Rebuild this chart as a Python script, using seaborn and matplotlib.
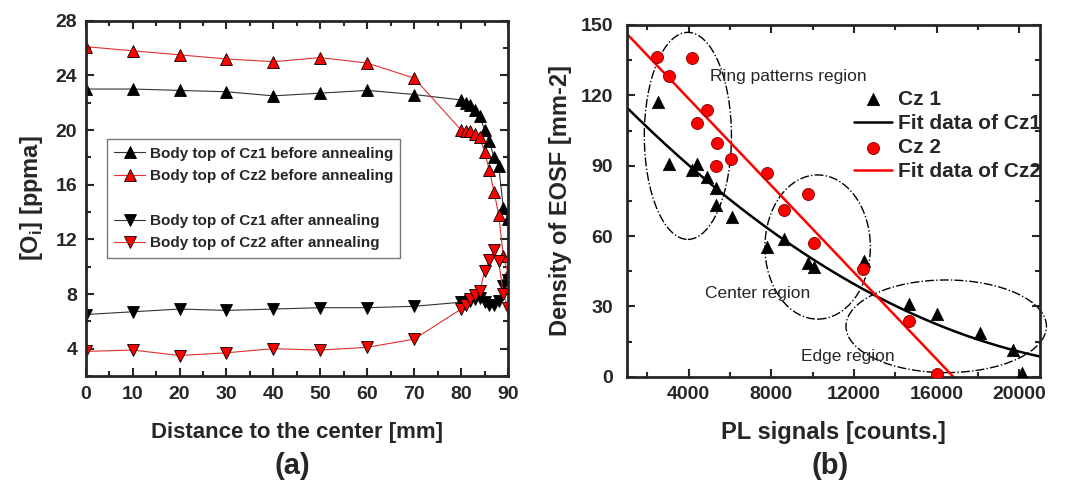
import numpy as np
import matplotlib
matplotlib.use("Agg")
import matplotlib.pyplot as plt
import seaborn as sns
from matplotlib.lines import Line2D
from matplotlib.patches import Ellipse
from matplotlib.ticker import MultipleLocator

# ---- data, panel (a) ----
distance = [0, 10, 20, 30, 40, 50, 60, 70, 80, 81, 82, 83, 84, 85, 86, 87, 88, 89, 90]
cz1_before = [23.0, 23.0, 22.9, 22.8, 22.5, 22.7, 22.9, 22.6, 22.2, 22.0, 21.8, 21.5, 21.0, 20.0,
              19.2, 18.0, 17.4, 14.3, 13.5]
cz2_before = [26.1, 25.8, 25.5, 25.2, 25.0, 25.3, 24.9, 23.8, 20.0, 19.9, 19.9, 19.7, 19.5, 18.4,
              17.1, 15.5, 13.8, 10.8, 9.5]
cz1_after = [6.5, 6.7, 6.9, 6.8, 6.9, 7.0, 7.0, 7.1, 7.4, 7.4, 7.5, 7.6, 7.7, 7.4, 7.2, 7.2, 7.5,
             8.6, 9.0]
cz2_after = [3.8, 3.9, 3.5, 3.7, 4.0, 3.9, 4.1, 4.7, 6.9, 7.2, 7.6, 7.9, 8.2, 9.7, 10.5, 11.2, 10.4,
             8.0, 7.0]

# ---- data, panel (b) ----
pl_cz1 = [2500, 3060, 4170, 4390, 4880, 5330, 5330, 6110, 7800, 8610, 9760, 10070, 12470, 14650,
          16030, 18110, 19710, 20120]
eosf_cz1 = [117.3, 90.7, 88.2, 90.7, 85.3, 80.3, 73.2, 68.0, 55.2, 58.6, 48.4, 46.9, 49.5, 31.0,
            26.7, 18.8, 11.4, 1.7]
pl_cz2 = [2465, 3064, 4166, 4879, 4393, 5365, 5301, 6062, 7797, 8608, 9759, 10066, 12433, 14654,
          16031]
eosf_cz2 = [136.5, 128.2, 135.8, 113.7, 108.1, 99.8, 89.9, 92.7, 87.0, 71.1, 77.9, 56.9, 45.8,
            23.9, 1.1]

sns.set_style("ticks")
plt.rcParams['font.family'] = ['Liberation Sans', 'DejaVu Sans']
plt.rcParams['mathtext.fontset'] = 'custom'
plt.rcParams['mathtext.rm'] = 'Liberation Sans:bold'
plt.rcParams['mathtext.bf'] = 'Liberation Sans:bold'

fig = plt.figure(figsize=(10.7, 4.93), dpi=100)
ax1 = fig.add_axes([0.0801, 0.2373, 0.3947, 0.7207])
ax2 = fig.add_axes([0.5857, 0.2359, 0.3863, 0.7134])

# ---- panel (a) ----
series = [
    (cz1_before, 'black', '^', 'Body top of Cz1 before annealing'),
    (cz2_before, 'red', '^', 'Body top of Cz2 before annealing'),
    (cz1_after, 'black', 'v', 'Body top of Cz1 after annealing'),
    (cz2_after, 'red', 'v', 'Body top of Cz2 after annealing'),
]
handles = []
for vals, col, mk, lab in series:
    lc = '#333333' if col == 'black' else '#e03030'
    sns.lineplot(x=distance, y=vals, ax=ax1, color=lc, linewidth=0.8, marker=mk,
                 markersize=8, markerfacecolor=col, markeredgecolor='black',
                 markeredgewidth=0.6, legend=False)
    handles.append(Line2D([], [], color=lc, linewidth=0.8, marker=mk, markersize=9,
                          markerfacecolor=col, markeredgecolor='black', markeredgewidth=0.6,
                          label=lab))
blank = Line2D([], [], linestyle='none', marker='none', label=' ')
leg = ax1.legend(handles=[handles[0], handles[1], blank, handles[2], handles[3]],
                 loc='upper left', bbox_to_anchor=(0.05, 0.667), borderaxespad=0,
                 fancybox=False, edgecolor='#777777', framealpha=1,
                 prop={'weight': 'bold', 'size': 11}, labelspacing=0.55,
                 handlelength=2.0, handletextpad=0.3, borderpad=0.5)
leg.get_frame().set_linewidth(1.0)

ax1.set_xlim(0, 90)
ax1.set_ylim(2, 28)
ax1.set_xticks(range(0, 91, 10))
ax1.set_yticks(range(4, 29, 4))
ax1.xaxis.set_minor_locator(MultipleLocator(5))
ax1.yaxis.set_minor_locator(MultipleLocator(2))
ax1.set_xlabel('Distance to the center [mm]', fontsize=16, fontweight='bold', labelpad=14)
ax1.set_ylabel(r'[O$_\mathbf{i}$] [ppma]', fontsize=17, fontweight='bold', labelpad=8)

# ---- panel (b) ----
ax2.add_patch(Ellipse((3960, 102.7), 4215, 88.3, fill=False, ls='-.', lw=1.0, ec='black'))
ax2.add_patch(Ellipse((10240, 55.3), 5100, 61.5, fill=False, ls='-.', lw=1.0, ec='black'))
ax2.add_patch(Ellipse((16460, 21.5), 9700, 39.5, fill=False, ls='-.', lw=1.0, ec='black',
                      clip_on=False))

xs = np.linspace(1000, 21000, 200)
c1 = np.polyfit(pl_cz1, eosf_cz1, 2)
c2 = np.polyfit(pl_cz2, eosf_cz2, 1)
sns.lineplot(x=xs, y=np.polyval(c1, xs), ax=ax2, color='black', linewidth=1.8,
             label='Fit data of Cz1')
sns.lineplot(x=xs, y=np.polyval(c2, xs), ax=ax2, color='red', linewidth=1.8,
             label='Fit data of Cz2')
sns.scatterplot(x=pl_cz1, y=eosf_cz1, ax=ax2, marker='^', color='black', s=80,
                edgecolor='black', linewidth=0.5, label='Cz 1', zorder=3)
sns.scatterplot(x=pl_cz2, y=eosf_cz2, ax=ax2, marker='o', color='red', s=75,
                edgecolor='#800000', linewidth=0.6, label='Cz 2', zorder=4)

h, l = ax2.get_legend_handles_labels()
order = [l.index(k) for k in ['Cz 1', 'Fit data of Cz1', 'Cz 2', 'Fit data of Cz2']]
ax2.legend([h[i] for i in order], [l[i] for i in order], loc='upper left',
           bbox_to_anchor=(0.53, 0.84), frameon=False, prop={'weight': 'bold', 'size': 15},
           labelspacing=0.25, handlelength=1.8, handletextpad=0.3, borderaxespad=0)

ax2.text(8800, 128, 'Ring patterns region', fontsize=12.5, ha='center', va='center')
ax2.text(7350, 35.6, 'Center region', fontsize=12.5, ha='center', va='center')
ax2.text(11700, 8.5, 'Edge region', fontsize=12.5, ha='center', va='center')

ax2.set_xlim(1000, 21000)
ax2.set_ylim(0, 150)
ax2.set_xticks(range(4000, 20001, 4000))
ax2.set_yticks(range(0, 151, 30))
ax2.xaxis.set_minor_locator(MultipleLocator(2000))
ax2.yaxis.set_minor_locator(MultipleLocator(15))
ax2.set_xlabel('PL signals [counts.]', fontsize=17, fontweight='bold', labelpad=13)
ax2.set_ylabel('Density of EOSF [mm-2]', fontsize=17, fontweight='bold', labelpad=6)

for ax in (ax1, ax2):
    for s in ax.spines.values():
        s.set_linewidth(2)
        s.set_visible(True)
    ax.tick_params(which='both', direction='in', top=True, right=True, width=1.5,
                   labelsize=14)
    ax.tick_params(which='major', length=6)
    ax.tick_params(which='minor', length=3.5)
    ax.tick_params(axis='x', pad=7)
    for t in ax.get_xticklabels() + ax.get_yticklabels():
        t.set_fontweight('bold')
ax1.tick_params(axis='y', pad=6)
ax2.tick_params(axis='y', pad=10)

fig.text(0.273, 0.055, '(a)', fontsize=21, fontweight='bold', ha='center', va='center')
fig.text(0.776, 0.055, '(b)', fontsize=21, fontweight='bold', ha='center', va='center')

fig.savefig('out.png', dpi=100)
